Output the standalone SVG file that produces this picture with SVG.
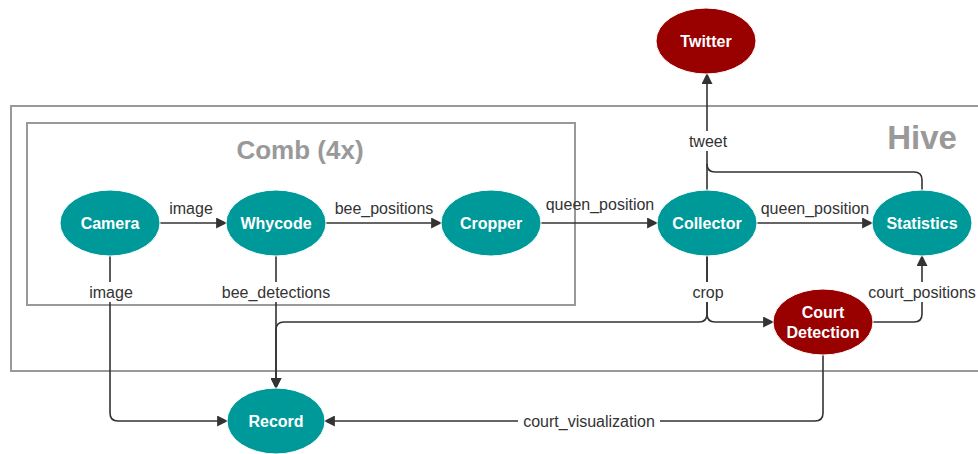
<svg xmlns="http://www.w3.org/2000/svg" width="978" height="454" viewBox="0 0 978 454">
<defs>
<marker id="arr" viewBox="0 0 10 10" refX="9" refY="5" markerWidth="11" markerHeight="11" markerUnits="userSpaceOnUse" orient="auto"><path d="M0,0 L10,5 L0,10 z" fill="#333"/></marker>
<style>
.box{fill:none;stroke:#999;stroke-width:2}
.title{font-family:"Liberation Sans",Arial,sans-serif;font-weight:bold;fill:#999;text-anchor:middle}
.teal{fill:#009999;stroke:#fff;stroke-width:1}
.red{fill:#990000;stroke:#fff;stroke-width:1}
.nt{font-family:"Liberation Sans",Arial,sans-serif;font-weight:bold;font-size:16px;fill:#fff;text-anchor:middle}
.e{fill:none;stroke:#333;stroke-width:1.6}
.lbl{font-family:"Liberation Sans",Arial,sans-serif;font-size:16px;fill:#333;text-anchor:middle}
.bg{fill:#fff}
</style>
</defs>
<rect width="978" height="454" fill="#fff"/>
<g id="hive"><rect class="box" x="11" y="106" width="980" height="265"/><text class="title" x="922" y="149" font-size="33">Hive</text></g>
<g id="comb"><rect class="box" x="27" y="123" width="548" height="182"/><text class="title" x="300" y="159" font-size="26">Comb (4x)</text></g>
<g id="connectors">
<path class="e" d="M160,223 H226" marker-end="url(#arr)"/>
<path class="e" d="M326,223 H441" marker-end="url(#arr)"/>
<path class="e" d="M541,223 H657" marker-end="url(#arr)"/>
<path class="e" d="M757,223 H872" marker-end="url(#arr)"/>
<path class="e" d="M707,190 V74" marker-end="url(#arr)"/>
<path class="e" d="M922,190 V180 Q922,172 914,172 H715 Q707,172 707,164"/>
<path class="e" d="M707,256 V314 Q707,322 715,322 H773" marker-end="url(#arr)"/>
<path class="e" d="M707,256 V314 Q707,322 699,322 H284 Q276,322 276,330 V388" marker-end="url(#arr)"/>
<path class="e" d="M276,256 V388" marker-end="url(#arr)"/>
<path class="e" d="M110,256 V413 Q110,421 118,421 H227" marker-end="url(#arr)"/>
<path class="e" d="M873,322 H914 Q922,322 922,314 V256" marker-end="url(#arr)"/>
<path class="e" d="M823,355 V413 Q823,421 815,421 H325" marker-end="url(#arr)"/>
<text class="lbl" x="191" y="214">image</text>
<text class="lbl" x="384" y="214">bee_positions</text>
<text class="lbl" x="600" y="210">queen_position</text>
<text class="lbl" x="815" y="214">queen_position</text>
<rect class="bg" x="684" y="131" width="48" height="20"/><text class="lbl" x="708" y="147">tweet</text>
<rect class="bg" x="688" y="282" width="40" height="20"/><text class="lbl" x="708" y="298">crop</text>
<rect class="bg" x="86" y="282" width="50" height="20"/><text class="lbl" x="111" y="298">image</text>
<rect class="bg" x="217" y="282" width="118" height="20"/><text class="lbl" x="276" y="298">bee_detections</text>
<rect class="bg" x="866" y="282" width="112" height="20"/><text class="lbl" x="922" y="298">court_positions</text>
<rect class="bg" x="518" y="411" width="142" height="20"/><text class="lbl" x="589" y="427">court_visualization</text>
</g>
<g id="camera"><ellipse class="teal" cx="110" cy="223" rx="50" ry="33"/><text class="nt" x="110" y="229">Camera</text></g>
<g id="whycode"><ellipse class="teal" cx="276" cy="223" rx="50" ry="33"/><text class="nt" x="276" y="229">Whycode</text></g>
<g id="cropper"><ellipse class="teal" cx="491" cy="223" rx="50" ry="33"/><text class="nt" x="491" y="229">Cropper</text></g>
<g id="collector"><ellipse class="teal" cx="707" cy="223" rx="50" ry="33"/><text class="nt" x="707" y="229">Collector</text></g>
<g id="statistics"><ellipse class="teal" cx="922" cy="223" rx="50" ry="33"/><text class="nt" x="922" y="229">Statistics</text></g>
<g id="twitter"><ellipse class="red" cx="706" cy="41" rx="50" ry="33"/><text class="nt" x="706" y="47">Twitter</text></g>
<g id="court"><ellipse class="red" cx="823" cy="322" rx="50" ry="33"/><text class="nt" x="823" y="318">Court</text><text class="nt" x="823" y="338">Detection</text></g>
<g id="record"><ellipse class="teal" cx="276" cy="421" rx="49" ry="33"/><text class="nt" x="276" y="427">Record</text></g>
</svg>
